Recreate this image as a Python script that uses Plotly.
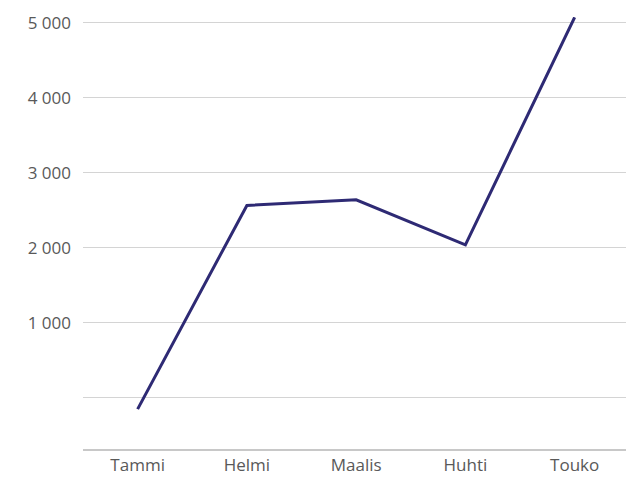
import plotly.graph_objects as go

months = ["Tammi", "Helmi", "Maalis", "Huhti", "Touko"]
values = [-150, 2565, 2640, 2040, 5073]

tick_vals = [0, 1000, 2000, 3000, 4000, 5000]
tick_text = ["", "1 000", "2 000", "3 000", "4 000", "5 000"]

fig = go.Figure()
fig.add_trace(go.Scatter(
    x=months, y=values, mode="lines",
    line=dict(color="#2e2a74", width=3),
    hoverinfo="skip",
))

fig.update_layout(
    width=626, height=484,
    margin=dict(l=83, r=0, t=17, b=35),
    plot_bgcolor="white", paper_bgcolor="white",
    showlegend=False,
    font=dict(family="Open Sans, Noto Sans, sans-serif", size=17, color="#595959"),
)
fig.update_xaxes(
    range=[-0.5, 4.47], showgrid=False, showline=True, linecolor="#c8c8c8", linewidth=1.5,
    ticks="", tickfont=dict(size=17, color="#595959"), zeroline=False,
)
fig.update_yaxes(
    range=[-682, 5077], tickvals=tick_vals, ticktext=tick_text,
    showgrid=True, gridcolor="#d4d4d4", gridwidth=1.2, zeroline=False, showline=False,
    ticks="", ticklabelstandoff=11, tickfont=dict(size=17, color="#595959"),
)

fig.write_html(
    "out.html",
    config={"displayModeBar": False, "staticPlot": True},
    post_script="document.body.style.margin='0';document.body.style.overflow='hidden';",
)
